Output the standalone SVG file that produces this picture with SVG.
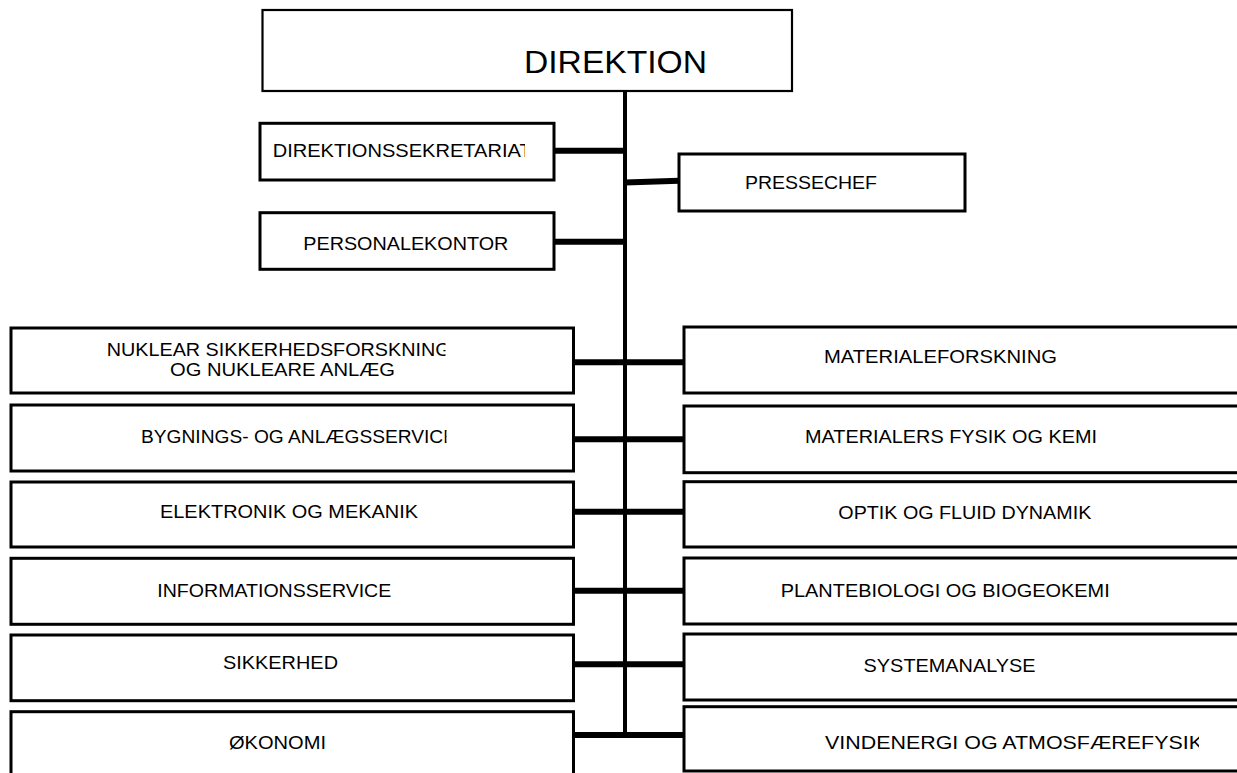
<svg xmlns="http://www.w3.org/2000/svg" width="1237" height="773" viewBox="0 0 1237 773">
<defs>
<style>
.box{fill:#fff;stroke:#000;stroke-width:3}
.t{font-family:"Liberation Sans",Arial,sans-serif;font-size:18.5px;fill:#000}
.big{font-size:31px}
.c{stroke:#000;stroke-width:6;fill:none}
.v{stroke:#000;stroke-width:4;fill:none}
</style>
<clipPath id="clipA"><rect x="0" y="0" width="525" height="773"/></clipPath>
<clipPath id="clipB"><rect x="0" y="0" width="445.5" height="773"/></clipPath>
<clipPath id="clipC"><rect x="0" y="0" width="446.5" height="773"/></clipPath>
<clipPath id="clipD"><rect x="0" y="0" width="1199" height="773"/></clipPath>
</defs>
<rect width="1237" height="773" fill="#fff"/>
<g id="connectors">
<line class="v" x1="625" y1="91" x2="625" y2="732"/>
<line class="c" x1="554" y1="150.7" x2="625" y2="150.7"/>
<line class="c" x1="625" y1="182.5" x2="679" y2="180.8"/>
<line class="c" x1="554" y1="241.7" x2="625" y2="241.7"/>
<line class="c" x1="573" y1="362.3" x2="684" y2="362.3"/>
<line class="c" x1="573" y1="439.3" x2="684" y2="439.3"/>
<line class="c" x1="573" y1="511.7" x2="684" y2="511.7"/>
<line class="c" x1="573" y1="590.7" x2="684" y2="590.7"/>
<line class="c" x1="573" y1="664.3" x2="684" y2="664.3"/>
<line class="c" x1="573" y1="735" x2="684" y2="735"/>
</g>
<g id="direktion">
<rect x="262.5" y="10" width="529.5" height="81" fill="#fff" stroke="#000" stroke-width="2.2"/>
<text class="t big" x="524" y="73.3" textLength="183" lengthAdjust="spacingAndGlyphs">DIREKTION</text>
</g>
<g id="direktionssekretariat">
<rect class="box" x="260" y="123.3" width="294" height="56.7"/>
<text class="t" x="272.7" y="156.7" textLength="259" lengthAdjust="spacingAndGlyphs" clip-path="url(#clipA)">DIREKTIONSSEKRETARIAT</text>
</g>
<g id="pressechef">
<rect class="box" x="679" y="154" width="286" height="57"/>
<text class="t" x="745" y="189.3" textLength="132" lengthAdjust="spacingAndGlyphs">PRESSECHEF</text>
</g>
<g id="personalekontor">
<rect class="box" x="260" y="212.7" width="294" height="56.6"/>
<text class="t" x="303.3" y="250" textLength="205" lengthAdjust="spacingAndGlyphs">PERSONALEKONTOR</text>
</g>
<g id="nuklear">
<rect class="box" x="11" y="328" width="562.5" height="65"/>
<text class="t" x="106.7" y="355.7" textLength="344" lengthAdjust="spacingAndGlyphs" clip-path="url(#clipB)">NUKLEAR SIKKERHEDSFORSKNING</text>
<text class="t" x="170" y="376" textLength="225" lengthAdjust="spacingAndGlyphs">OG NUKLEARE ANLÆG</text>
</g>
<g id="bygnings">
<rect class="box" x="11" y="405" width="562.5" height="66"/>
<text class="t" x="141" y="443" textLength="315" lengthAdjust="spacingAndGlyphs" clip-path="url(#clipC)">BYGNINGS- OG ANLÆGSSERVICE</text>
</g>
<g id="elektronik">
<rect class="box" x="11" y="482" width="562.5" height="65"/>
<text class="t" x="160" y="518.3" textLength="258" lengthAdjust="spacingAndGlyphs">ELEKTRONIK OG MEKANIK</text>
</g>
<g id="informationsservice">
<rect class="box" x="11" y="558.3" width="562.5" height="66"/>
<text class="t" x="157.3" y="596.7" textLength="234" lengthAdjust="spacingAndGlyphs">INFORMATIONSSERVICE</text>
</g>
<g id="sikkerhed">
<rect class="box" x="11" y="635" width="562.5" height="65.7"/>
<text class="t" x="223" y="669.3" textLength="115" lengthAdjust="spacingAndGlyphs">SIKKERHED</text>
</g>
<g id="okonomi">
<rect class="box" x="11" y="711.7" width="562.5" height="80"/>
<text class="t" x="229" y="749" textLength="97" lengthAdjust="spacingAndGlyphs">ØKONOMI</text>
</g>
<g id="materialeforskning">
<rect class="box" x="684" y="327" width="570" height="66"/>
<text class="t" x="824" y="363.3" textLength="233" lengthAdjust="spacingAndGlyphs">MATERIALEFORSKNING</text>
</g>
<g id="materialers">
<rect class="box" x="684" y="406" width="570" height="66.7"/>
<text class="t" x="805" y="442.7" textLength="292" lengthAdjust="spacingAndGlyphs">MATERIALERS FYSIK OG KEMI</text>
</g>
<g id="optik">
<rect class="box" x="684" y="481.7" width="570" height="65.3"/>
<text class="t" x="838.3" y="519.3" textLength="253" lengthAdjust="spacingAndGlyphs">OPTIK OG FLUID DYNAMIK</text>
</g>
<g id="plantebiologi">
<rect class="box" x="684" y="558" width="570" height="66"/>
<text class="t" x="780.7" y="596.7" textLength="329" lengthAdjust="spacingAndGlyphs">PLANTEBIOLOGI OG BIOGEOKEMI</text>
</g>
<g id="systemanalyse">
<rect class="box" x="684" y="634" width="570" height="66"/>
<text class="t" x="863.6" y="671.7" textLength="172" lengthAdjust="spacingAndGlyphs">SYSTEMANALYSE</text>
</g>
<g id="vindenergi">
<rect class="box" x="684" y="706.7" width="570" height="64.3"/>
<text class="t" x="825" y="749" textLength="378" lengthAdjust="spacingAndGlyphs" clip-path="url(#clipD)">VINDENERGI OG ATMOSFÆREFYSIK</text>
</g>
</svg>
